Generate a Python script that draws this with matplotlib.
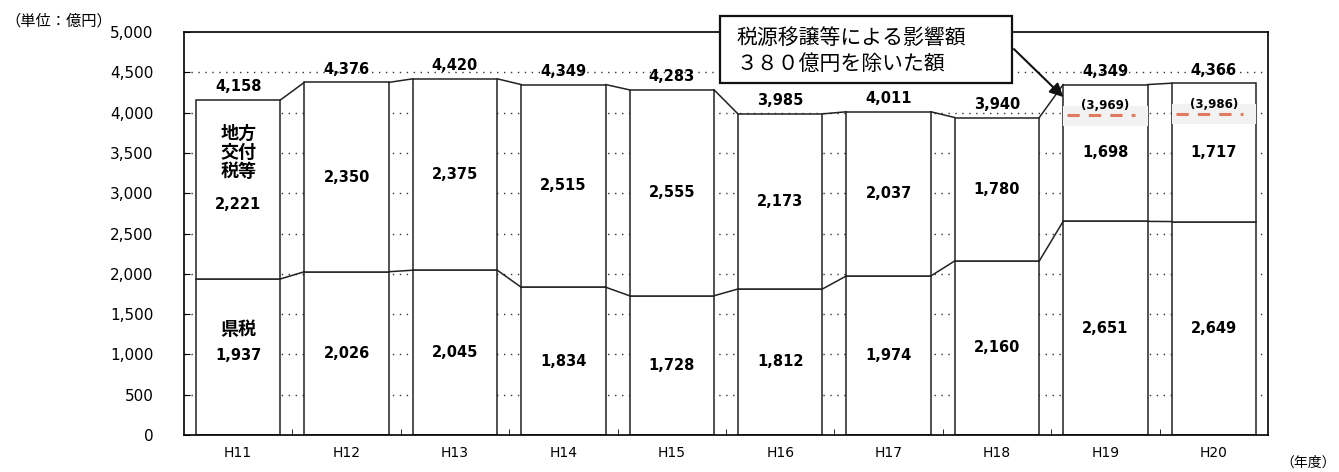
import matplotlib.pyplot as plt
from matplotlib.patches import Rectangle
import numpy as np

plt.rcParams['font.family'] = ['DejaVu Sans', 'Noto Sans CJK JP']

# データ（単位：億円）
years = ['H11', 'H12', 'H13', 'H14', 'H15', 'H16', 'H17', 'H18', 'H19', 'H20']
kenzei = [1937, 2026, 2045, 1834, 1728, 1812, 1974, 2160, 2651, 2649]
kofuzei = [2221, 2350, 2375, 2515, 2555, 2173, 2037, 1780, 1698, 1717]
# 税源移譲等による影響額380億円を除いた額
excl_years = ['H19', 'H20']
excl_values = [3969, 3986]

x = np.arange(len(years))
total = np.array(kenzei) + np.array(kofuzei)
w = 0.78

fig = plt.figure(figsize=(13.39, 4.72), dpi=100)
ax = fig.add_axes([0.1374, 0.0784, 0.8096, 0.8536])

# グリッド（点線）
for g in range(500, 5000, 500):
    ax.axhline(g, color='#333333', linestyle=(0, (1, 4)), linewidth=1.0, zorder=0)

ax.bar(x, kenzei, w, color='white', edgecolor='#222222', linewidth=1.1, zorder=2)
ax.bar(x, kofuzei, w, bottom=kenzei, color='white', edgecolor='#222222', linewidth=1.1, zorder=2)

# 棒の間をつなぐ線
for i in range(len(x) - 1):
    ax.plot([x[i] + w/2, x[i+1] - w/2], [total[i], total[i+1]], color='#222222', lw=1.1, zorder=3)
    ax.plot([x[i] + w/2, x[i+1] - w/2], [kenzei[i], kenzei[i+1]], color='#222222', lw=1.1, zorder=3)

fs = 10.5
fw = 'bold'
for i in range(len(x)):
    ax.text(x[i], total[i] + 70, f'{total[i]:,}', ha='center', va='bottom', fontsize=fs, fontweight=fw, zorder=5)
    if i == 0:
        ax.text(x[i], 2860, f'{kofuzei[i]:,}', ha='center', va='center', fontsize=fs, fontweight=fw, zorder=5)
        ax.text(x[i], 983, f'{kenzei[i]:,}', ha='center', va='center', fontsize=fs, fontweight=fw, zorder=5)
    else:
        ax.text(x[i], kenzei[i] + kofuzei[i] / 2, f'{kofuzei[i]:,}', ha='center', va='center',
                fontsize=fs, fontweight=fw, zorder=5)
        ax.text(x[i], kenzei[i] / 2, f'{kenzei[i]:,}', ha='center', va='center',
                fontsize=fs, fontweight=fw, zorder=5)

ax.text(x[0], 3500, '地方\n交付\n税等', ha='center', va='center', fontsize=13,
        fontweight='bold', linespacing=1.05, zorder=5)
ax.text(x[0], 1306, '県税', ha='center', va='center', fontsize=13, fontweight='bold', zorder=5)

# 影響額を除いた額（赤破線）
for yr, v in zip(excl_years, excl_values):
    xi = years.index(yr)
    ax.add_patch(Rectangle((xi - w/2, v - 130), w, 250, facecolor='#f2f2f2', edgecolor='none', zorder=3))
    ax.plot([xi - w/2 + 0.04, xi + w/2 - 0.12], [v, v], color='#e07a5f', linestyle=(0, (4, 3)),
            lw=2.2, zorder=4)
    ax.text(xi, v + 40, f'({v:,})', ha='center', va='bottom', fontsize=8.5, fontweight='bold', zorder=5)

# 吹き出し
ax.add_patch(Rectangle((4.445, 4367), 2.693, 832, facecolor='white', edgecolor='#111111',
                       linewidth=1.6, clip_on=False, zorder=6))
ax.text(4.6, 4925, '税源移譲等による影響額', ha='left', va='center', fontsize=15, zorder=7)
ax.text(4.6, 4602, '３８０億円を除いた額', ha='left', va='center', fontsize=15, zorder=7)
ax.annotate('', xy=(7.63, 4170), xytext=(7.138, 4813),
            arrowprops=dict(arrowstyle='-|>', color='#111111', lw=1.5, mutation_scale=20),
            annotation_clip=False, zorder=7)

ax.set_xlim(-0.5, 9.5)
ax.set_ylim(0, 5000)
ax.set_yticks(np.arange(0, 5001, 500))
ax.set_yticklabels([f'{v:,}' for v in range(0, 5001, 500)], fontsize=11)
ax.set_xticks(x)
ax.set_xticklabels(years, fontsize=10)
ax.tick_params(axis='x', length=0, pad=8)
ax.tick_params(axis='y', direction='in', length=4, pad=22)
ax.set_xticks(x[:-1] + 0.5, minor=True)
ax.tick_params(axis='x', which='minor', direction='in', length=4)
for s in ax.spines.values():
    s.set_linewidth(1.2)

fig.text(0.004, 0.955, '（単位：億円）', fontsize=11, ha='left', va='center')
fig.text(0.998, 0.02, '（年度）', fontsize=10, ha='right', va='center')

plt.savefig('out.png', dpi=100)
